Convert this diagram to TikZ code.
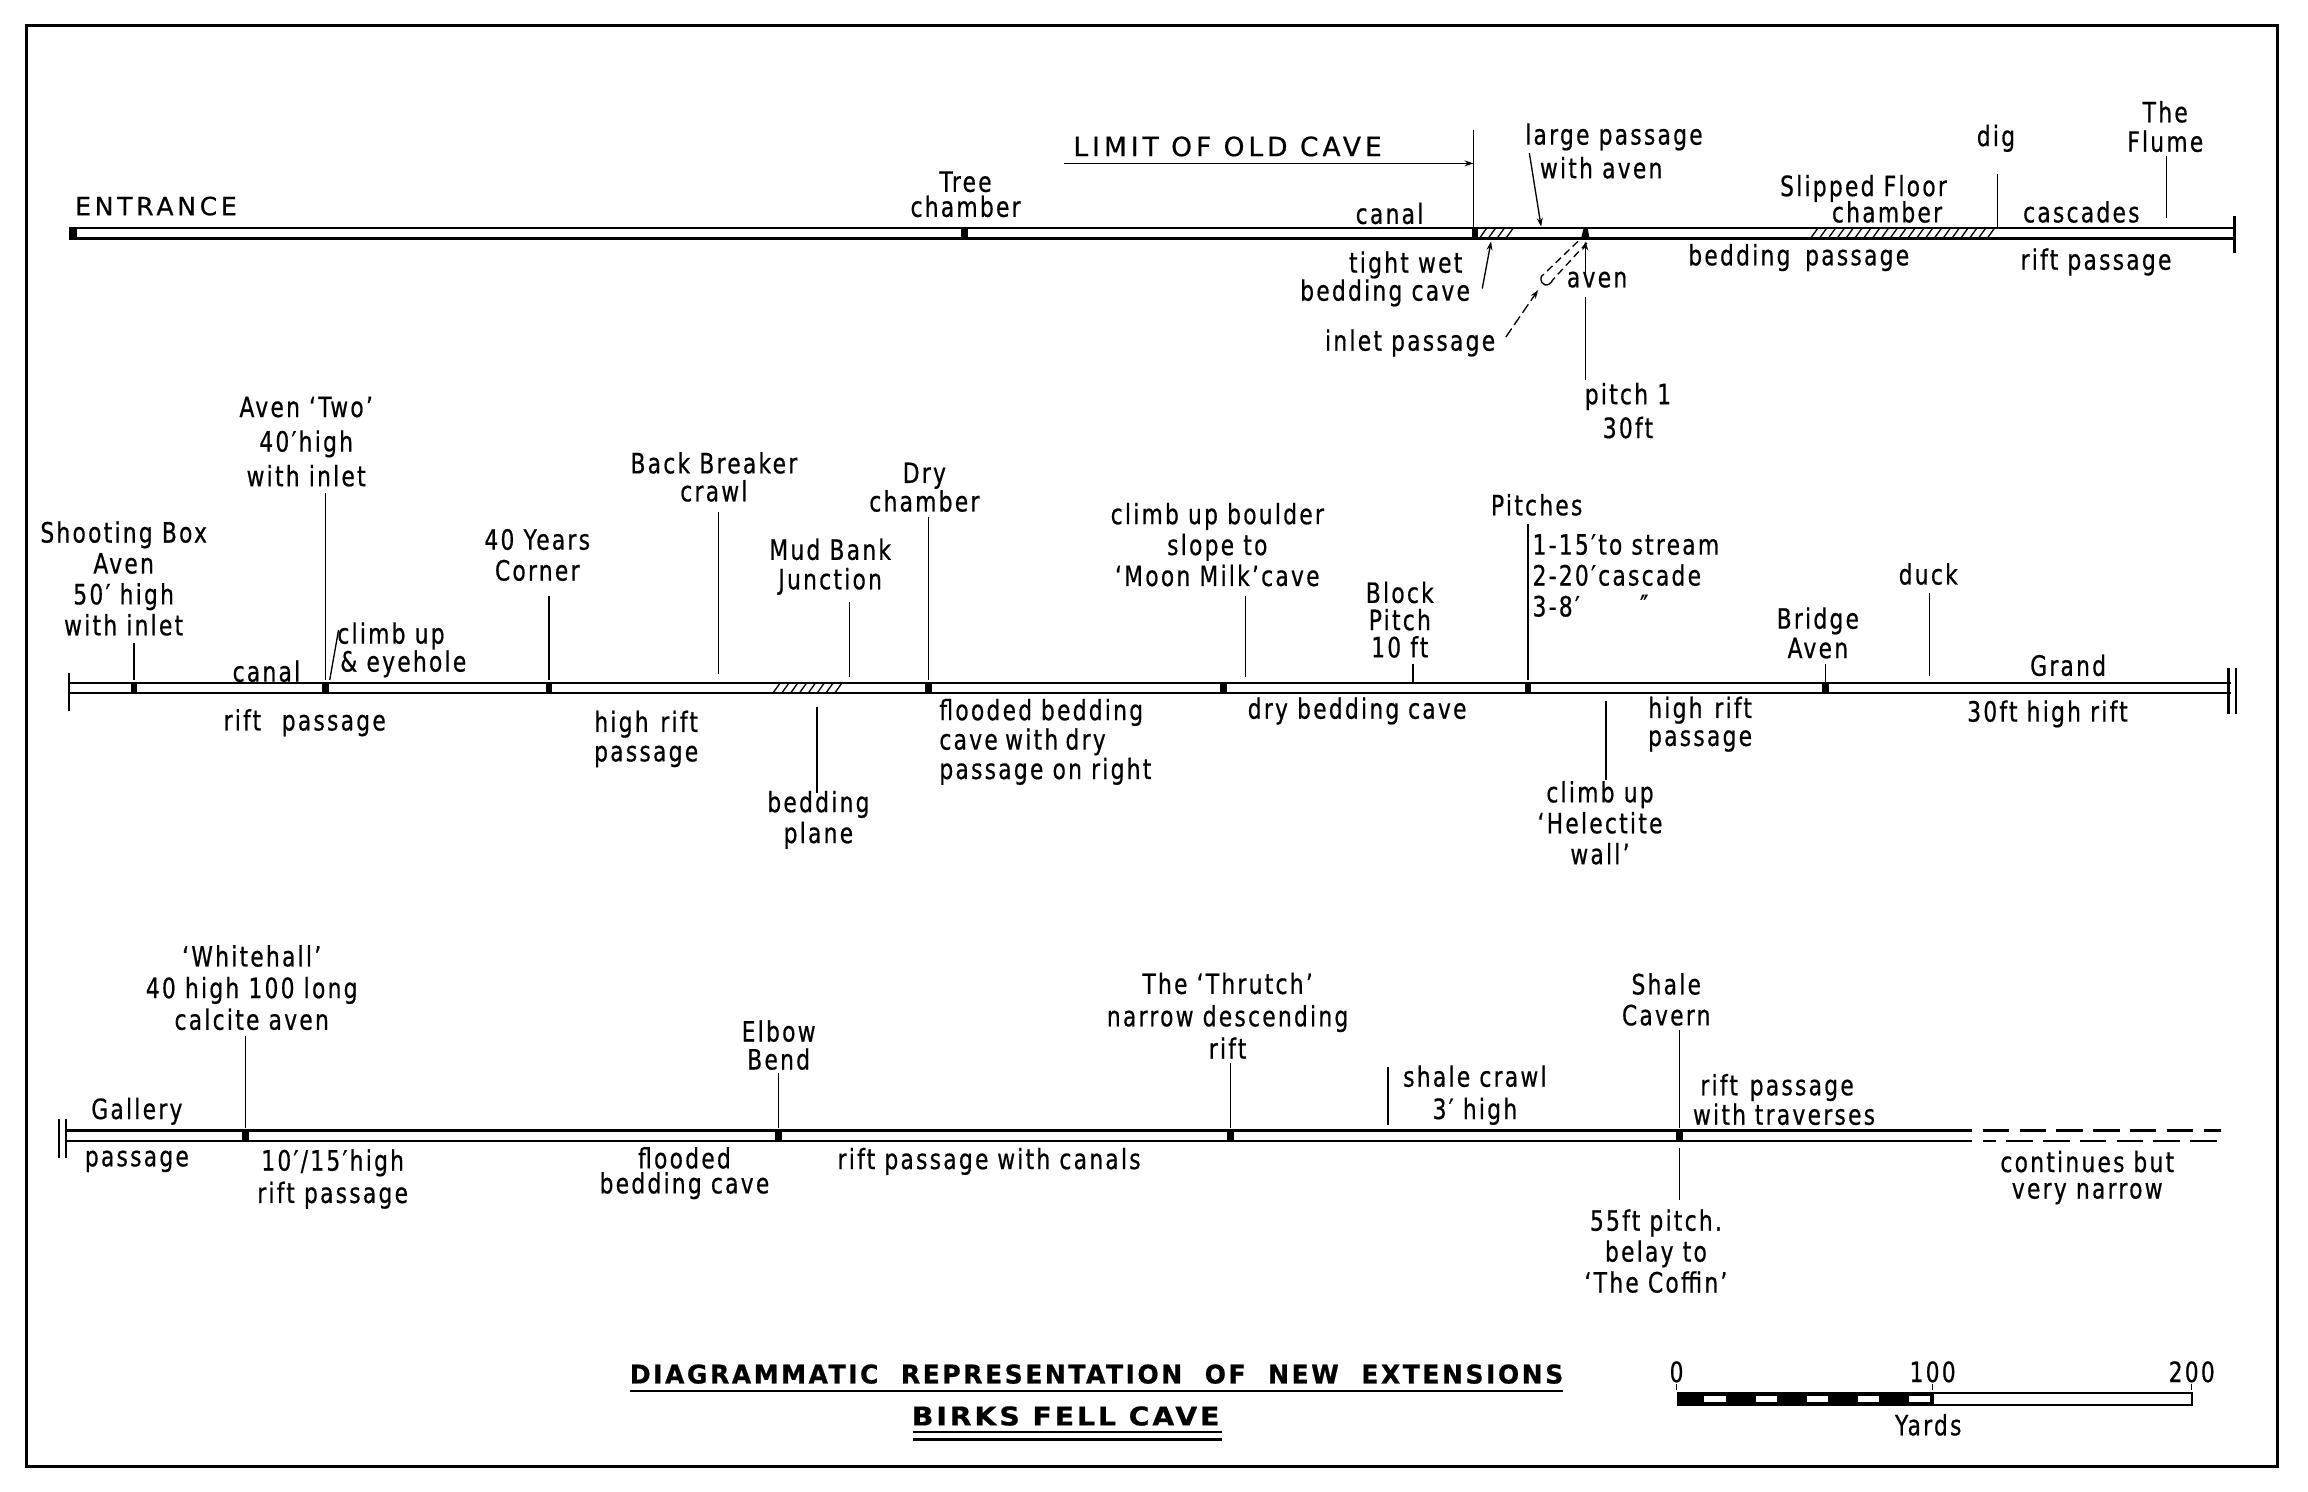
\documentclass[tikz,border=0pt]{standalone}
\usepackage{fontspec}
\usepackage{graphicx}
\setmainfont{DejaVu Sans}[FakeStretch=0.78,LetterSpace=8,FakeBold=0.6]
\newfontfamily\capsf{DejaVu Sans}[LetterSpace=15,FakeBold=0.6]
\usetikzlibrary{arrows.meta}
\tikzset{
  lbl/.style={font=\fontsize{19}{21}\selectfont, inner sep=0pt, align=center},
  sp/.style={font=\fontsize{19}{#1}\selectfont},
  ptr/.style={line width=0.9pt},
  wall/.style={line width=1.6pt},
  endbar/.style={line width=1.6pt},
  hatchln/.style={line width=0.9pt},
  tip/.style={-{Stealth[length=6pt,width=4pt]}},
}
\newcommand\vln[4]{\coordinate (#1a) at (#2,#3); \coordinate (#1b) at (#2,#4); \draw[ptr] (#1a) -- (#1b);}
\newcommand\tk[3]{\fill ({#1-2.3},#2) rectangle ({#1+2.3},#3);}
\begin{document}
\begin{tikzpicture}[x=1pt,y=-1pt]
\useasboundingbox (0,0) rectangle (1568,1013);
\fill[white] (0,0) rectangle (1568,1013);
\draw[line width=2pt] (18,17) rectangle (1547,996);

% ================= TOP ROW =================
\coordinate (tL) at (48,155); \coordinate (tR) at (1518,155);
\coordinate (tLb) at (48,162); \coordinate (tRb) at (1518,162);
\draw[wall] (tL) -- (tR) (tLb) -- (tRb);
\fill (47,154) rectangle (52,163);
\draw[endbar] (1518,147) -- (1518,172);
\tk{655}{154.5}{162.5}
% hatching: limit of old cave
\fill (1000,154.5) rectangle (1004,162.5);
\foreach \hx in {1005,1011,...,1026} {\draw[hatchln] (\hx,162) -- ({\hx+5},155);}
% hatching: slipped floor
\foreach \hx in {1230,1236,...,1352} {\draw[hatchln] (\hx,162) -- ({\hx+5},155);}
% aven mark
\fill (1074,162.5) -- (1080,162.5) -- (1078.5,154.5) -- (1076,154.5) -- cycle;

% limit of old cave
\vln{lim}{1001}{88}{155}
\coordinate (limS) at (723,111); \coordinate (limE) at (1001,111);
\draw[ptr,tip] (limS) -- (limE);
\node[lbl] (limit) at (834,99.5) {\fontsize{18}{21}\selectfont\capsf LIMIT OF OLD CAVE};

\node[lbl] (entr) at (106,140) {\fontsize{17}{21}\selectfont\capsf ENTRANCE};
\node[lbl,sp=17] (tree) at (656,132) {Tree\\chamber};
\node[lbl] (canal1) at (944,145) {canal};
\node[lbl,anchor=west] (large1) at (1036,93) {large passage};
\node[lbl,anchor=west] (large2) at (1046,114) {with aven};
\coordinate (lgA) at (1039,104); \coordinate (lgB) at (1047,154);
\draw[ptr,tip] (lgA) -- (lgB);
\node[lbl] (tight1) at (955,180) {tight wet};
\node[lbl] (tight2) at (941,199) {bedding cave};
\coordinate (tgA) at (1007,196); \coordinate (tgB) at (1013,164);
\draw[ptr,tip] (tgA) -- (tgB);
% inlet passage channel
\coordinate (inA) at (1072,164); \coordinate (inB) at (1047,188);
\coordinate (inC) at (1078,165); \coordinate (inD) at (1055,190);
\draw[ptr,dash pattern=on 5pt off 3pt] (inA) -- (inB);
\draw[ptr,dash pattern=on 5pt off 3pt] (inC) -- (inD);
\draw[ptr] (inB) .. controls (1046,194) and (1052,196) .. (inD);
\node[lbl] (inlet) at (958,233) {inlet passage};
\coordinate (ipA) at (1023,229); \coordinate (ipB) at (1045,197);
\draw[ptr,tip,dash pattern=on 7pt off 3pt] (ipA) -- (ipB);
\node[lbl] (aven) at (1085,190) {aven};
\coordinate (avA) at (1077,186); \coordinate (avB) at (1077,164);
\draw[ptr,tip] (avA) -- (avB);
\vln{pit}{1077}{202}{258}
\node[lbl,sp=23] (pitch) at (1106,279) {pitch 1\\30ft};
\node[lbl] (bedpass) at (1222,175) {bedding\hspace{10pt}passage};
\node[lbl] (slip1) at (1266,128) {Slipped Floor};
\node[lbl] (slip2) at (1282,144) {chamber};
\node[lbl] (dig) at (1356,94) {dig};
\vln{dg}{1357}{118}{155}
\node[lbl] (casc) at (1414,144) {cascades};
\node[lbl] (riftp) at (1424,178) {rift passage};
\node[lbl,sp=20] (flume) at (1471,86) {The\\Flume};
\vln{fl}{1472}{106}{148}

% ================= MIDDLE ROW =================
\coordinate (mL) at (47,464); \coordinate (mR) at (1516,464);
\coordinate (mLb) at (47,471); \coordinate (mRb) at (1516,471);
\draw[wall] (mL) -- (mR) (mLb) -- (mRb);
\draw[endbar] (47,457) -- (47,483);
\draw[endbar] (1514,454) -- (1514,485) (1519,454) -- (1519,485);
\foreach \tx in {91,221,373,631,831,1038,1240} {\tk{\tx}{463.5}{471.5}}
\foreach \hx in {525,531,...,572} {\draw[hatchln] (\hx,471) -- ({\hx+5},464);}

\node[lbl,sp=21] (shoot) at (84,393) {Shooting Box\\Aven\\50′ high\\with inlet};
\vln{sh}{91}{437}{462}
\node[lbl] (canal2) at (181,456) {canal};
\node[lbl,sp=23.5] (avtwo) at (208,300) {Aven ‘Two’\\40′high\\with inlet};
\vln{at}{221}{335}{462}
\node[lbl,anchor=west] (climb1) at (229,432) {climb up};
\node[lbl,anchor=west] (climb2) at (231,451) {\& eyehole};
\coordinate (clA) at (230,428); \coordinate (clB) at (224,462);
\draw[ptr] (clA) -- (clB);
\node[lbl] (riftp2) at (207,491) {rift\hspace{14pt}passage};
\node[lbl,sp=21] (years) at (365,377) {40 Years\\Corner};
\vln{yr}{373}{405}{462}
\node[lbl,sp=19] (back) at (485,324) {Back Breaker\\crawl};
\vln{bk}{488}{348}{458}
\node[lbl,sp=20] (mud) at (564,385) {Mud Bank\\Junction};
\vln{md}{577}{409}{460}
\node[lbl,sp=18] (dry) at (628,331) {Dry\\chamber};
\vln{dr}{631}{351}{462}
\node[lbl,sp=20] (highrift) at (439,502) {high\hspace{8pt}rift\\passage};
\vln{bp}{555}{480}{539}
\node[lbl,sp=21] (bedplane) at (556,557) {bedding\\plane};
\node[lbl,sp=20,anchor=west,align=left] (flooded) at (638,504) {flooded\hspace{6pt}bedding\\cave\hspace{5pt}with\hspace{5pt}dry\\passage on right};
\node[lbl,sp=21] (boulder) at (827,370) {climb up boulder\\slope to\\‘Moon Milk’cave};
\vln{mm}{846}{405}{460}
\node[lbl] (drybed) at (922,483) {dry bedding\hspace{6pt}cave};
\node[lbl,sp=18.5] (block) at (951,421) {Block\\Pitch\\10 ft};
\vln{bl}{960}{451}{464}
\node[lbl] (pitches) at (1044,343) {Pitches};
\vln{pc}{1038}{356}{462}
\node[lbl,sp=21,anchor=west,align=left] (plist) at (1041,391) {1-15′to stream\\2-20′cascade\\3-8′};
\node[lbl] (ditto) at (1117,411) {″};
\node[lbl,sp=19] (highrift2) at (1155,492) {high\hspace{8pt}rift\\passage};
\vln{hc}{1091}{476}{530}
\node[lbl,sp=21] (helect) at (1087,559) {climb up\\‘Helectite\\wall’};
\node[lbl,sp=20] (bridge) at (1235,430) {Bridge\\Aven};
\vln{br}{1240}{451}{464}
\node[lbl] (duck) at (1310,390) {duck};
\vln{dk}{1311}{403}{459}
\node[lbl] (grand) at (1405,452) {Grand};
\node[lbl] (thirty) at (1391,485) {30ft high rift};

% ================= BOTTOM ROW =================
\coordinate (bL) at (44,768); \coordinate (bR) at (1340,768);
\coordinate (bLb) at (44,775); \coordinate (bRb) at (1340,775);
\coordinate (bDa) at (1347,768); \coordinate (bDb) at (1509,768);
\coordinate (bDc) at (1347,775); \coordinate (bDd) at (1509,775);
\draw[wall] (bL) -- (bR) (bLb) -- (bRb);
\draw[wall,dash pattern=on 18pt off 7pt] (bDa) -- (bDb);
\draw[wall,dash pattern=on 18pt off 7pt,dash phase=9pt] (bDc) -- (bDd);
\draw[endbar] (40,760) -- (40,787) (45,760) -- (45,787);
\foreach \tx in {167,529,836,1141} {\tk{\tx}{767.5}{775.5}}

\node[lbl] (gallery) at (93,755) {Gallery};
\node[lbl] (passage3) at (93,789) {passage};
\node[lbl,sp=21.5] (white) at (171,671) {‘Whitehall’\\40 high 100 long\\calcite aven};
\vln{wh}{167}{704}{766}
\node[lbl,sp=22] (tenft) at (226,801) {10′/15′high\\rift passage};
\node[lbl,sp=19] (elbow) at (529,710) {Elbow\\Bend};
\vln{eb}{529}{729}{766}
\node[lbl,sp=17] (flooded2) at (465,797) {flooded\\bedding cave};
\node[lbl] (riftcan) at (672,789) {rift passage\hspace{6pt}with canals};
\node[lbl,sp=22] (thrutch) at (834,690) {The ‘Thrutch’\\narrow descending\\rift};
\vln{th}{836}{722}{766}
\vln{sc}{943}{725}{764}
\node[lbl,sp=22] (shalecr) at (1002,744) {shale crawl\\3′ high};
\node[lbl,sp=21] (cavern) at (1132,679) {Shale\\Cavern};
\vln{cv}{1141}{700}{766}
\node[lbl,sp=20,anchor=west,align=left] (riftrav) at (1150,747) {\hspace{5pt}rift\hspace{8pt}passage\\with\hspace{6pt}traverses};
\vln{cf}{1141}{780}{815}
\node[lbl,sp=21] (coffin) at (1125,850) {55ft pitch.\\belay to\\‘The Coffin’};
\node[lbl,sp=18] (continues) at (1418,800) {continues\hspace{6pt}but\\very narrow};

% ================= TITLE =================
\node[inner sep=0pt] (title) at (745,933.5) {\resizebox{634pt}{13pt}{\bfseries DIAGRAMMATIC\ \ REPRESENTATION\ \ OF\ \ NEW\ \ EXTENSIONS}};
\draw[line width=1.8pt] (428,945) -- (1062,945);
\node[inner sep=0pt] (birks) at (724,962) {\resizebox{209pt}{13pt}{\bfseries BIRKS FELL CAVE}};
\draw[line width=1.6pt] (620,973) -- (830,973) (620,978) -- (830,978);

% ================= SCALE =================
\node[lbl] (n0) at (1139,932) {0};
\node[lbl] (n100) at (1313,932) {100};
\node[lbl] (n200) at (1489,932) {200};
\foreach \sx in {1139,1313,1489} {\draw[ptr] (\sx,940) -- (\sx,944);}
\fill (1139,946) rectangle (1313,955);
\foreach \i in {1,3,5,7,9} {\fill[white] ({1139+\i*17.4+1.5},948.5) rectangle ({1139+(\i+1)*17.4-1.5},952.5);}
\draw[line width=1.2pt] (1313,946.6) rectangle (1489,954.4);
\node[lbl] (yards) at (1310,968) {Yards};
\end{tikzpicture}
\end{document}
